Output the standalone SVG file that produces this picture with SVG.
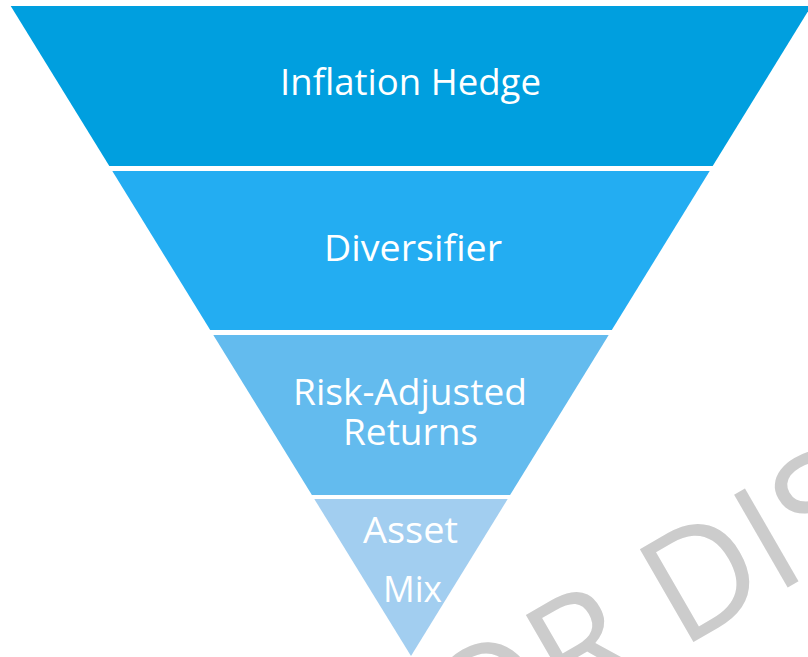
<svg xmlns="http://www.w3.org/2000/svg" width="808" height="657" viewBox="0 0 808 657">
<style>
.lbl{font-family:"Open Sans","Noto Sans",sans-serif;font-size:36px;fill:#ffffff;text-anchor:middle}
.wm{font-family:"Open Sans","Noto Sans",sans-serif;font-size:150px;fill:#cccccc}
</style>
<rect width="808" height="657" fill="#ffffff"/>
<g id="watermark">
<text class="wm" transform="translate(700,638) rotate(-30)" x="-348" y="0">FOR DISTRIBUTION</text>
</g>
<g id="connectors"></g>
<g id="band1">
<polygon points="10.7,6 811.3,6 712.7,166 109.3,166" fill="#009fdf"/>
<text class="lbl" x="410.5" y="95" textLength="261" lengthAdjust="spacingAndGlyphs">Inflation Hedge</text>
</g>
<g id="band2">
<polygon points="112.3,171 709.7,171 611.8,330 210.2,330" fill="#23adf2"/>
<text class="lbl" x="413" y="260.5" textLength="178" lengthAdjust="spacingAndGlyphs">Diversifier</text>
</g>
<g id="band3">
<polygon points="213.3,335 608.7,335 510.1,495 311.9,495" fill="#63bbee"/>
<text class="lbl" x="410" y="405" textLength="234" lengthAdjust="spacingAndGlyphs">Risk-Adjusted</text>
<text class="lbl" x="410.5" y="445" textLength="135" lengthAdjust="spacingAndGlyphs">Returns</text>
</g>
<g id="band4">
<polygon points="314.3,499 507.7,499 411,656" fill="#a2cef0"/>
<text class="lbl" x="410.5" y="543" textLength="95" lengthAdjust="spacingAndGlyphs">Asset</text>
<text class="lbl" x="412.5" y="602" textLength="59" lengthAdjust="spacingAndGlyphs">Mix</text>
</g>
</svg>
